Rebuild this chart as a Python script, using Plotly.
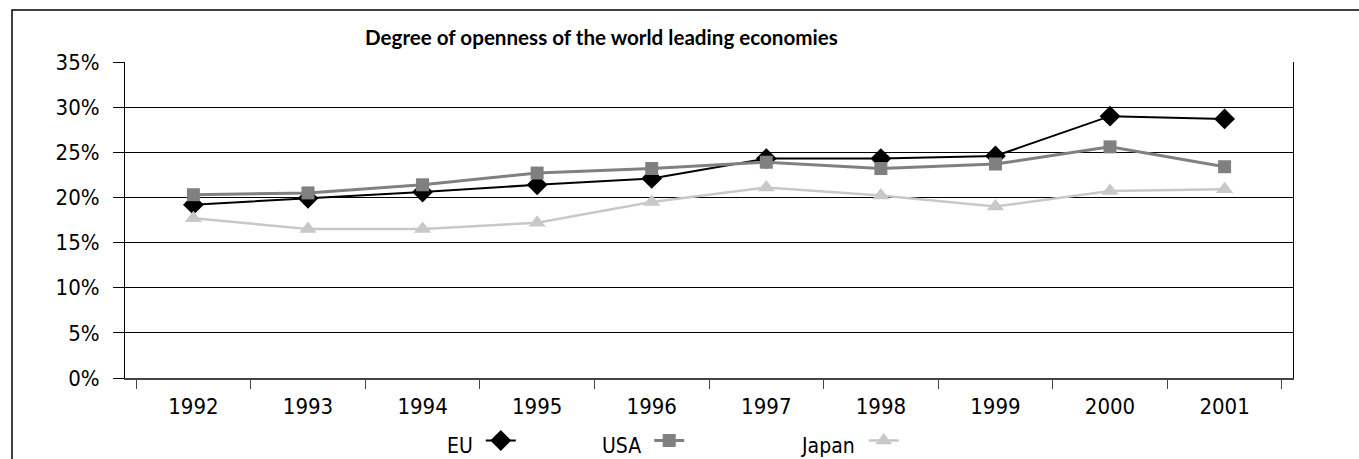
import plotly.graph_objects as go

years = ["1992", "1993", "1994", "1995", "1996", "1997", "1998", "1999", "2000", "2001"]
eu = [0.192, 0.199, 0.206, 0.214, 0.221, 0.243, 0.243, 0.246, 0.290, 0.287]
usa = [0.203, 0.205, 0.214, 0.227, 0.232, 0.239, 0.232, 0.237, 0.256, 0.234]
japan = [0.177, 0.165, 0.165, 0.172, 0.195, 0.211, 0.202, 0.190, 0.207, 0.209]
y_ticks = [0, 0.05, 0.10, 0.15, 0.20, 0.25, 0.30, 0.35]

W, H = 1359, 459
L, R, T, B = 125, 66, 62, 81
pw, ph = W - L - R, H - T - B

def px(x):
    return (x - L) / pw

def py(y):
    return (H - B - y) / ph

def cx(x):
    return x / W

def cy(y):
    return (H - y) / H

tick_font = dict(family="DejaVu Sans Condensed, Liberation Sans Narrow, sans-serif", size=22, color="#000")
leg_font = dict(family="DejaVu Sans Condensed, Liberation Sans Narrow, sans-serif", size=21, color="#000")

fig = go.Figure()
fig.add_trace(go.Scatter(x=years, y=eu, name="EU", mode="lines+markers",
                         line=dict(color="#000000", width=2),
                         marker=dict(symbol="diamond", size=16, color="#000000"),
                         legend="legend"))
fig.add_trace(go.Scatter(x=years, y=usa, name="USA", mode="lines+markers",
                         line=dict(color="#808080", width=3),
                         marker=dict(symbol="square", size=13, color="#808080"),
                         legend="legend2"))
fig.add_trace(go.Scatter(x=years, y=japan, name="Japan", mode="lines+markers",
                         line=dict(color="#c8c8c8", width=2.5),
                         marker=dict(symbol="triangle-up", size=15, color="#c8c8c8"),
                         legend="legend3"))

def leg(title, x):
    return dict(title=dict(text=title, font=leg_font, side="left"),
                orientation="h", xref="container", yref="container",
                x=cx(x), xanchor="left", y=cy(445), yanchor="middle",
                font=dict(size=1, color="rgba(0,0,0,0)"), bgcolor="rgba(0,0,0,0)",
                itemwidth=30, tracegroupgap=0)

fig.update_layout(
    width=W, height=H,
    margin=dict(l=L, r=R, t=T, b=B, pad=0, autoexpand=False),
    paper_bgcolor="#ffffff", plot_bgcolor="#ffffff",
    showlegend=True,
    legend=leg("EU", 445),
    legend2=leg("USA", 600),
    legend3=leg("Japan", 800),
    xaxis=dict(type="category", showgrid=False, showline=True, linecolor="#444", linewidth=2,
               ticks="outside", tickson="boundaries", ticklen=9, tickcolor="#444", tickwidth=1,
               tickfont=tick_font, zeroline=False, mirror=False, automargin=False,
               ticklabelstandoff=8),
    yaxis=dict(range=[0, 0.35], tickvals=y_ticks, tickformat=".0%", showgrid=True,
               gridcolor="#000", gridwidth=1, showline=True, linecolor="#000", linewidth=1,
               mirror=True, ticks="outside", ticklen=11, tickcolor="#000", tickwidth=1,
               tickfont=tick_font, zeroline=False, ticklabelstandoff=9, automargin=False),
    annotations=[dict(text="<b>Degree of openness of the world leading economies</b>",
                      xref="paper", yref="paper", x=px(601), y=py(37), xanchor="center",
                      yanchor="middle", showarrow=False,
                      font=dict(family="Lato, Open Sans, sans-serif", size=20.6, color="#000"))],
    shapes=[dict(type="rect", xref="paper", yref="paper", x0=px(12), y0=py(470), x1=px(1370), y1=py(10),
                 line=dict(color="#000", width=1.5), fillcolor="rgba(0,0,0,0)", layer="below")],
)

fig.write_html("out.html", config={"displayModeBar": False},
               post_script="document.body.style.margin='0';document.body.style.padding='0';")
